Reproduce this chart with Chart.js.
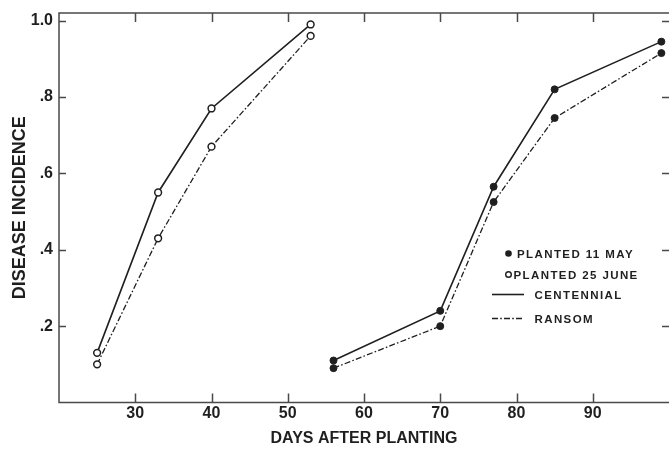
<!DOCTYPE html>
<html><head><meta charset="utf-8">
<script src="https://cdn.jsdelivr.net/npm/chart.js@4.4.1/dist/chart.umd.min.js"></script>
<style>
html,body{margin:0;padding:0;background:#fff;overflow:hidden;}
#wrap{position:relative;width:669px;height:451px;}
</style></head><body>
<div id="wrap"><canvas id="c" width="669" height="451"></canvas></div>
<script>
// ---- data ----
const mayDays = [56, 70, 77, 85, 99];
const mayCentennial = [0.11, 0.24, 0.565, 0.82, 0.945];
const mayRansom = [0.09, 0.20, 0.525, 0.745, 0.915];
const juneDays = [25, 33, 40, 53];
const juneCentennial = [0.13, 0.55, 0.77, 0.99];
const juneRansom = [0.10, 0.43, 0.67, 0.96];
const xTickValues = [30, 40, 50, 60, 70, 80, 90];
const yTickValues = [0.2, 0.4, 0.6, 0.8, 1.0];
const yTickLabels = ['.2', '.4', '.6', '.8', '1.0'];
const legendLabels = ['PLANTED 11 MAY', 'PLANTED 25 JUNE', 'CENTENNIAL', 'RANSOM'];
const xTitle = 'DAYS AFTER PLANTING';
const yTitle = 'DISEASE INCIDENCE';

const INK = '#1f1f1f';
const AXIS = '#4a4a4a';
const DASHDOT = [6, 2.2, 1.6, 2.2];
const FAM = '"Liberation Sans", Arial, Helvetica, sans-serif';
Chart.defaults.font.family = FAM;

const pts = (xs, ys) => xs.map((x, i) => ({x: x, y: ys[i]}));

function ds(label, xs, ys, dashed, open) {
  return {
    label: label,
    data: pts(xs, ys),
    showLine: true,
    borderColor: INK,
    borderWidth: dashed ? 1.3 : 1.6,
    borderDash: dashed ? DASHDOT : [],
    pointRadius: open ? 3.4 : 3.5,
    pointBorderWidth: open ? 1.5 : 1,
    pointBorderColor: INK,
    pointBackgroundColor: open ? '#ffffff' : INK,
    tension: 0,
    fill: false,
    clip: false
  };
}

// frame: left, bottom and top edges (the right edge of the plot lies just past the picture)
const frameTicks = {
  id: 'frameTicks',
  beforeDatasetsDraw(chart) {
    const {ctx, chartArea: ca, scales: {x, y}} = chart;
    ctx.save();
    ctx.strokeStyle = AXIS;
    ctx.lineWidth = 1.5;
    ctx.beginPath();
    ctx.moveTo(ca.right + 2, ca.top); ctx.lineTo(ca.left, ca.top);
    ctx.lineTo(ca.left, ca.bottom); ctx.lineTo(ca.right + 2, ca.bottom);
    ctx.stroke();
    ctx.beginPath();
    xTickValues.forEach(v => {
      const px = Math.round(x.getPixelForValue(v)) + 0.5;
      ctx.moveTo(px, ca.bottom); ctx.lineTo(px, ca.bottom - 9);
      ctx.moveTo(px, ca.top); ctx.lineTo(px, ca.top + 9);
    });
    yTickValues.forEach(v => {
      const py = Math.round(y.getPixelForValue(v)) + 0.5;
      ctx.moveTo(ca.left, py); ctx.lineTo(ca.left + 7, py);
      ctx.moveTo(ca.right + 1, py); ctx.lineTo(ca.right - 7, py);
    });
    ctx.stroke();
    ctx.restore();
  }
};

const legendPlugin = {
  id: 'customLegend',
  afterDraw(chart) {
    const ctx = chart.ctx;
    ctx.save();
    ctx.font = 'bold 11.5px ' + FAM;
    try { ctx.letterSpacing = '1.4px'; } catch (e) {}
    ctx.fillStyle = INK;
    ctx.strokeStyle = INK;
    ctx.textBaseline = 'alphabetic';
    ctx.textAlign = 'left';
    const cap = 4.1;
    // row 1: filled dot
    ctx.beginPath(); ctx.arc(508.5, 253.5, 3.3, 0, Math.PI * 2); ctx.fill();
    ctx.fillText(legendLabels[0], 517, 253.5 + cap);
    // row 2: open circle
    ctx.lineWidth = 1.4;
    ctx.beginPath(); ctx.arc(508.5, 274.5, 2.8, 0, Math.PI * 2); ctx.fillStyle = '#fff'; ctx.fill(); ctx.stroke();
    ctx.fillStyle = INK;
    ctx.fillText(legendLabels[1], 513.5, 274.5 + cap);
    // row 3: solid line
    ctx.lineWidth = 1.6;
    ctx.beginPath(); ctx.moveTo(492, 294.5); ctx.lineTo(524, 294.5); ctx.stroke();
    ctx.fillText(legendLabels[2], 534.5, 294.5 + cap);
    // row 4: dash-dot line
    ctx.lineWidth = 1.3;
    ctx.setLineDash(DASHDOT);
    ctx.beginPath(); ctx.moveTo(492, 318.5); ctx.lineTo(524, 318.5); ctx.stroke();
    ctx.setLineDash([]);
    ctx.fillText(legendLabels[3], 534.5, 318.5 + cap);
    ctx.restore();
  }
};

new Chart(document.getElementById('c'), {
  type: 'scatter',
  data: {
    datasets: [
      ds('Centennial 11 May', mayDays, mayCentennial, false, false),
      ds('Ransom 11 May', mayDays, mayRansom, true, false),
      ds('Centennial 25 June', juneDays, juneCentennial, false, true),
      ds('Ransom 25 June', juneDays, juneRansom, true, true)
    ]
  },
  options: {
    responsive: false,
    animation: false,
    layout: {autoPadding: false, padding: {top: 13, right: 0, left: 0, bottom: 0}},
    plugins: {legend: {display: false}, tooltip: {enabled: false}},
    scales: {
      x: {
        type: 'linear', position: 'bottom', min: 20, max: 100,
        grid: {display: false, drawTicks: false},
        border: {display: false},
        afterBuildTicks: s => { s.ticks = xTickValues.map(v => ({value: v})); },
        afterFit: s => { s.height = 48.5; s.paddingLeft = 0; s.paddingRight = 0; },
        ticks: {autoSkip: false, maxRotation: 0, padding: 1, color: INK,
                font: {size: 16, weight: 'bold'}, callback: v => String(v)},
        title: {display: true, text: xTitle, color: INK, font: {size: 16, weight: 'bold'},
                padding: {top: 3, bottom: 3}}
      },
      y: {
        type: 'linear', position: 'left', min: 0, max: 1.02,
        grid: {display: false, drawTicks: false},
        border: {display: false},
        afterBuildTicks: s => { s.ticks = yTickValues.map(v => ({value: v})); },
        afterFit: s => { s.width = 59; s.paddingTop = 0; s.paddingBottom = 0; },
        ticks: {padding: 6, color: INK, font: {size: 16, weight: 'bold'},
                callback: v => yTickLabels[yTickValues.indexOf(v)]},
        title: {display: true, text: yTitle, color: INK, font: {size: 18, weight: 'bold'},
                padding: {top: 9.2, bottom: 9.2}}
      }
    }
  },
  plugins: [frameTicks, legendPlugin]
});
</script>
</body></html>
